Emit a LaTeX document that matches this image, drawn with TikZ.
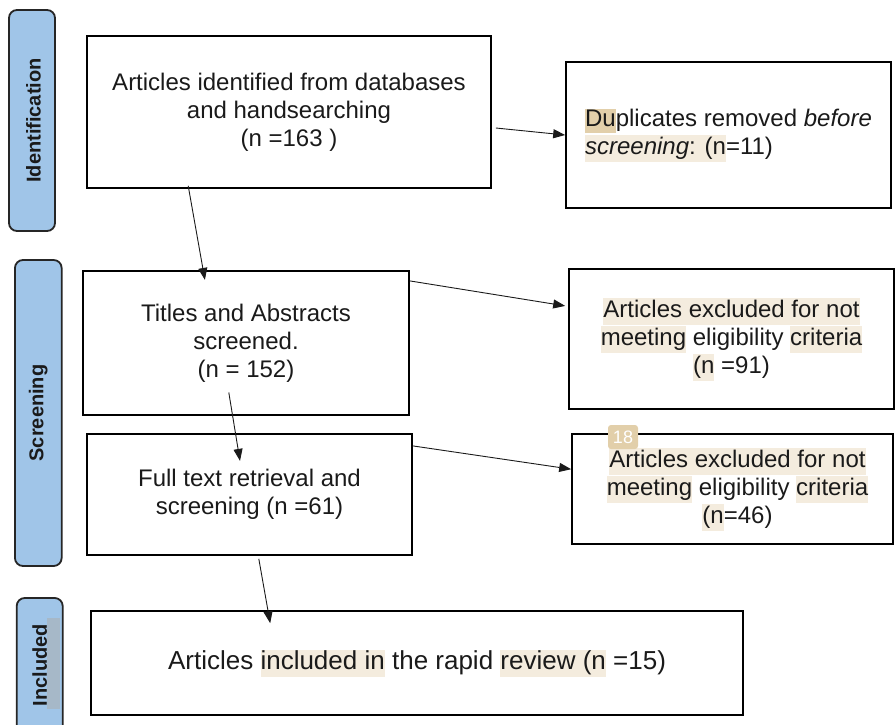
\documentclass[tikz,border=0pt]{standalone}
\usepackage{fontspec}
\setmainfont{Liberation Sans}
\usetikzlibrary{arrows.meta}
\definecolor{lab}{RGB}{160,197,232}
\definecolor{hlc}{RGB}{244,236,222}
\definecolor{tanc}{RGB}{226,207,170}
\definecolor{ovl}{RGB}{166,184,200}
\definecolor{ink}{RGB}{26,26,26}
\newcommand\hlt[1]{{\setlength{\fboxsep}{0pt}\colorbox{hlc}{\rule[-7pt]{0pt}{27pt}#1}}}
\newcommand\dub[1]{{\setlength{\fboxsep}{0pt}\colorbox{tanc}{\rule[-6pt]{0pt}{24pt}#1}}}
\begin{document}
\begin{tikzpicture}[x=1pt,y=1pt,
  box/.style={draw=black,line width=1.6pt,align=center,text=ink,
    font=\fontsize{24}{28}\selectfont,inner sep=0pt},
  lbl/.style={draw=black!85,line width=1.8pt,fill=lab,rounded corners=8pt,inner sep=0pt},
  ltxt/.style={rotate=90,text=ink,font=\fontsize{20}{24}\selectfont\bfseries,inner sep=0pt},
  arr/.style={-{Triangle[length=12pt,width=9pt]},line width=0.9pt,draw=ink}]
\useasboundingbox (0,0) rectangle (895,-725);
\clip (0,0) rectangle (895,-725);

% phase labels
\node[lbl,minimum width=46pt,minimum height=221pt] (lid) at (32,-120.5) {};
\node[ltxt] (tid) at (33.5,-120.5) {Identification};
\node[lbl,minimum width=46.7pt,minimum height=306pt] (lsc) at (38.3,-413) {};
\node[ltxt] (tsc) at (lsc) {Screening};
\node[lbl,minimum width=46pt,minimum height=142pt] (lin) at (39.7,-669) {};
\fill[ovl] (46.7,-617.7) rectangle (60,-709);
\node[ltxt] (tin) at (39.7,-665) {Included};

% main boxes
\node[box,minimum width=404pt,minimum height=152pt] (A) at (289,-112)
  {Articles identified from databases\\and handsearching\\(n =163 )};
\node[box,minimum width=325pt,minimum height=146pt,align=left] (dup) at (728.5,-135)
  {\dub{Du}plicates removed \textit{before}\\\hlt{\textit{screening}: (n}=11)};
\node[box,minimum width=326pt,minimum height=144pt] (B) at (246,-343)
  {Titles and Abstracts\\screened.\\(n = 152)};
\node[box,minimum width=325pt,minimum height=140pt] (ex1) at (731.5,-339)
  {\hlt{Articles excluded for not}\\\hlt{meeting} eligibility \hlt{criteria}\\\hlt{(n} =91)};
\node[box,minimum width=325pt,minimum height=121pt] (C) at (249.5,-494.5)
  {Full text retrieval and\\screening (n =61)};
\node[box,minimum width=321pt,minimum height=110pt] (ex2) at (732.5,-489)
  {\hspace*{10pt}\hlt{Articles excluded for not}\\\hspace*{10pt}\hlt{meeting} eligibility \hlt{criteria}\\\hspace*{10pt}\hlt{(n}=46)};
\node[box,minimum width=652pt,minimum height=104pt,font=\fontsize{26}{30}\selectfont] (D) at (417,-663)
  {Articles \hlt{included in} the rapid \hlt{review (n} =15)};

% annotation badge
\node[fill=tanc,rounded corners=3pt,minimum width=30pt,minimum height=24pt,
  inner sep=0pt,text=white,font=\fontsize{18}{18}\selectfont] (b18) at (623,-437) {18};

% connectors
\draw[arr] ([xshift=4pt,yshift=-16pt]A.east) -- (dup.west);
\draw[arr] ([xshift=102pt,yshift=3pt]A.south west) -- ([xshift=122.7pt,yshift=-9.7pt]B.north west);
\draw[arr] ([yshift=-10.7pt]B.north east) -- ([xshift=-3pt,yshift=-37.7pt]ex1.north west);
\draw[arr] ([xshift=146.6pt,yshift=23.3pt]B.south west) -- ([xshift=153.8pt,yshift=-27.7pt]C.north west);
\draw[arr] ([yshift=-12.7pt]C.north east) -- ([yshift=-36pt]ex2.north west);
\draw[arr] ([xshift=172.6pt,yshift=-3pt]C.south west) -- ([xshift=180pt,yshift=-13pt]D.north west);
\end{tikzpicture}
\end{document}
